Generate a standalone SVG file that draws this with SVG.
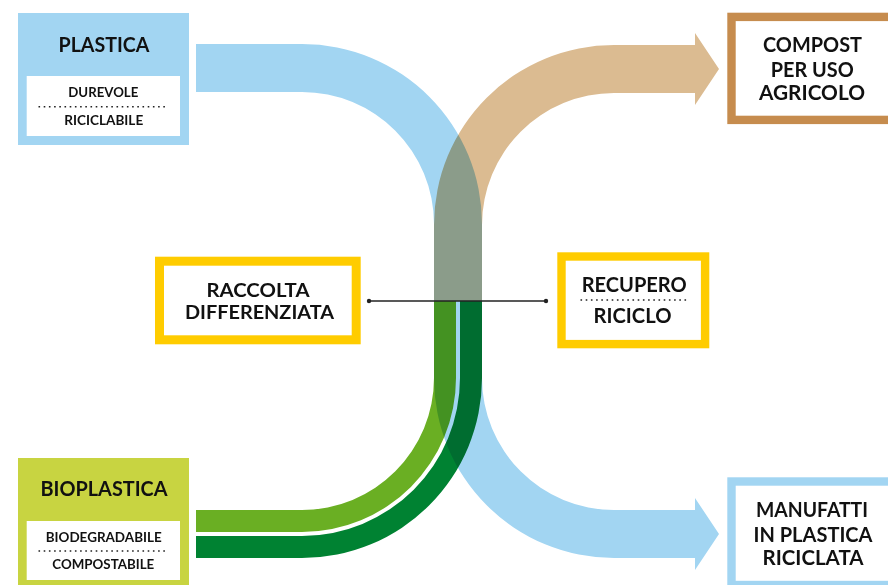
<svg xmlns="http://www.w3.org/2000/svg" width="888" height="585" viewBox="0 0 888 585">
<style>
.t{font-family:Lato,"Liberation Sans",sans-serif;font-weight:700;fill:#111;text-anchor:middle}
.big{font-size:21px}
.mid{font-size:19.5px}
.sm{font-size:12.5px}
.dot{stroke:#222;stroke-width:1.6;stroke-dasharray:1.6 3.6;fill:none}
.band{mix-blend-mode:multiply}
</style>
<rect width="888" height="585" fill="#fff"/>
<g id="connectors">
<path class="band" fill="#A2D5F2" d="M196,44 H302 A180,180 0 0 1 482,224 V378 A132,132 0 0 0 614,510 H695 V498 L719,534 L695,570 V558 H614 A180,180 0 0 1 434,378 V224 A132,132 0 0 0 302,92 H196 Z"/>
<path class="band" fill="#DBBB91" d="M434,301 V225 A180,180 0 0 1 614,45 H695 V33 L719,69 L695,105 V93 H614 A132,132 0 0 0 482,225 V301 Z"/>
<path class="band" fill="#6AAF23" d="M196,510 H302 A132,132 0 0 0 434,378 V301 H456 V378 A154,154 0 0 1 302,532 H196 Z"/>
<path class="band" fill="#008232" d="M196,536 H302 A158,158 0 0 0 460,378 V301 H482 V378 A180,180 0 0 1 302,558 H196 Z"/>
<line x1="369" y1="301" x2="546" y2="301" stroke="#222" stroke-width="1.3"/>
<circle cx="369" cy="301" r="2.2" fill="#222"/>
<circle cx="546" cy="301" r="2.2" fill="#222"/>
</g>
<g id="plastica">
<rect x="18" y="13" width="171" height="132" fill="#A2D5F2"/>
<rect x="26.7" y="76" width="153.3" height="60" fill="#fff"/>
<text class="t big" x="104" y="52" textLength="91" lengthAdjust="spacingAndGlyphs">PLASTICA</text>
<text class="t sm" x="103.3" y="96.7" textLength="70" lengthAdjust="spacingAndGlyphs">DUREVOLE</text>
<line class="dot" x1="38.5" y1="106.7" x2="168.5" y2="106.7"/>
<text class="t sm" x="103.7" y="125" textLength="79" lengthAdjust="spacingAndGlyphs">RICICLABILE</text>
</g>
<g id="bioplastica">
<rect x="18" y="458" width="171" height="131" fill="#C8D441"/>
<rect x="26.7" y="521" width="153.3" height="59" fill="#fff"/>
<text class="t big" x="104" y="496" textLength="127" lengthAdjust="spacingAndGlyphs">BIOPLASTICA</text>
<text class="t sm" x="103.7" y="541.7" textLength="116" lengthAdjust="spacingAndGlyphs">BIODEGRADABILE</text>
<line class="dot" x1="38.5" y1="551" x2="168.5" y2="551"/>
<text class="t sm" x="103.3" y="569.3" textLength="102" lengthAdjust="spacingAndGlyphs">COMPOSTABILE</text>
</g>
<g id="raccolta">
<rect x="159.5" y="261.2" width="196.7" height="78.6" fill="#fff" stroke="#FFCC00" stroke-width="9"/>
<text class="t mid" x="258" y="296.5" textLength="103" lengthAdjust="spacingAndGlyphs">RACCOLTA</text>
<text class="t mid" x="259.5" y="319" textLength="149" lengthAdjust="spacingAndGlyphs">DIFFERENZIATA</text>
</g>
<g id="recupero">
<rect x="561.5" y="256.5" width="143.6" height="87.6" fill="#fff" stroke="#FFCC00" stroke-width="8.4"/>
<text class="t big" x="634.2" y="291.7" textLength="105" lengthAdjust="spacingAndGlyphs">RECUPERO</text>
<line class="dot" x1="580.5" y1="300" x2="687" y2="300"/>
<text class="t big" x="632.5" y="322.7" textLength="78" lengthAdjust="spacingAndGlyphs">RICICLO</text>
</g>
<g id="compost">
<rect x="731.5" y="16.9" width="200" height="103" fill="#fff" stroke="#C68C4E" stroke-width="8.4"/>
<text class="t big" x="812.5" y="52" textLength="99" lengthAdjust="spacingAndGlyphs">COMPOST</text>
<text class="t big" x="812.3" y="76.7" textLength="83" lengthAdjust="spacingAndGlyphs">PER USO</text>
<text class="t big" x="812" y="100" textLength="106" lengthAdjust="spacingAndGlyphs">AGRICOLO</text>
</g>
<g id="manufatti">
<rect x="731.5" y="481.5" width="200" height="103.5" fill="#fff" stroke="#A2D5F2" stroke-width="8.4"/>
<text class="t big" x="812" y="517" textLength="112" lengthAdjust="spacingAndGlyphs">MANUFATTI</text>
<text class="t big" x="813" y="541.7" textLength="119" lengthAdjust="spacingAndGlyphs">IN PLASTICA</text>
<text class="t big" x="813" y="565" textLength="101" lengthAdjust="spacingAndGlyphs">RICICLATA</text>
</g>
</svg>
